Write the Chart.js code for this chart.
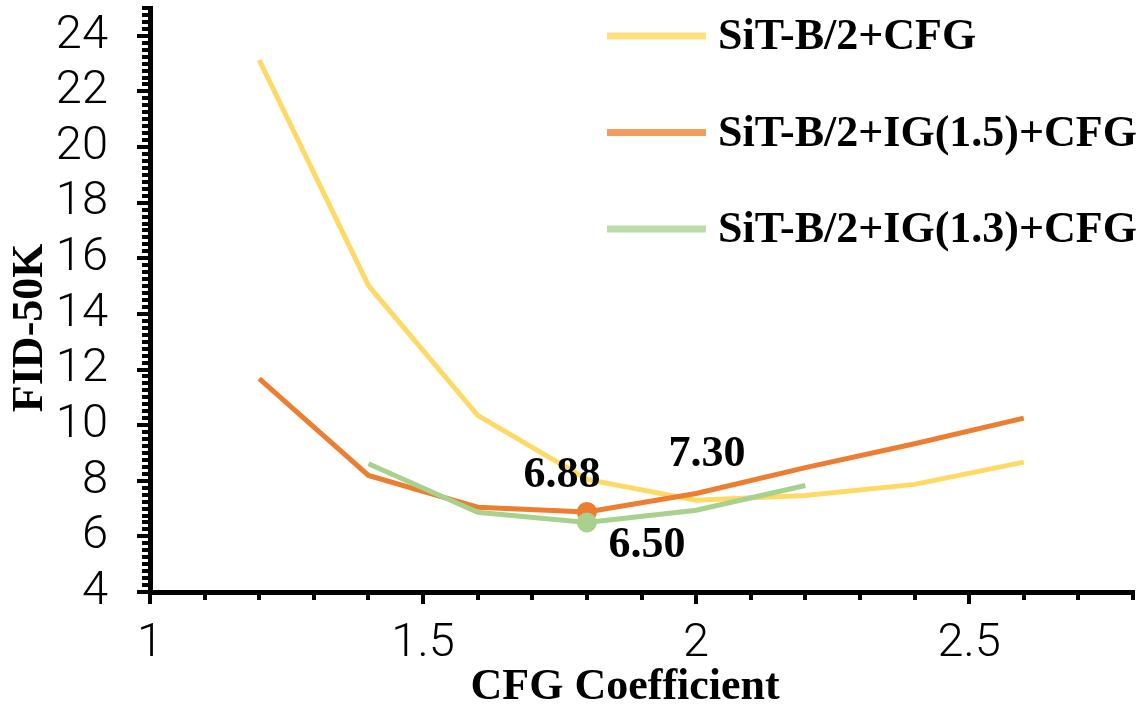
<!DOCTYPE html>
<html>
<head>
<meta charset="utf-8">
<script src="https://cdn.jsdelivr.net/npm/chart.js@4.4.0/dist/chart.umd.min.js"></script>
<style>
  html, body { margin: 0; padding: 0; background: #fff; }
  #wrap { width: 1141px; height: 711px; }
</style>
</head>
<body>
<div id="wrap"><canvas id="c" width="1141" height="711"></canvas></div>
<script>
// ---- data ----
const seriesLabels = ['SiT-B/2+CFG', 'SiT-B/2+IG(1.5)+CFG', 'SiT-B/2+IG(1.3)+CFG'];
const cfgX      = [1.2, 1.4, 1.6, 1.8, 2.0, 2.2, 2.4, 2.6];
const sitCfg    = [23.13, 15.02, 10.35, 8.05, 7.30, 7.47, 7.87, 8.67];
const ig15X     = [1.2, 1.4, 1.6, 1.8, 2.0, 2.2, 2.4, 2.6];
const ig15Cfg   = [11.67, 8.19, 7.05, 6.88, 7.54, 8.47, 9.33, 10.25];
const ig13X     = [1.4, 1.6, 1.8, 2.0, 2.2];
const ig13Cfg   = [8.61, 6.87, 6.50, 6.94, 7.83];
const highlightX = 1.8;
const xTickValues = [1, 1.5, 2, 2.5];
const yTickValues = [4, 6, 8, 10, 12, 14, 16, 18, 20, 22, 24];
const xTitle = 'CFG Coefficient';
const yTitle = 'FID-50K';
// value labels: [datasetIndex, x value, text]
const valueLabels = [[1, 1.8, '6.88'], [0, 2.0, '7.30'], [2, 1.8, '6.50']];

const lineColors   = ['#FFD966', '#ED7D31', '#A9D18E'];
const legendColors = ['#FFDF80', '#F29C60', '#BCDCA7'];
const serif = '"Liberation Serif", "Times New Roman", serif';
const sans = 'Roboto, "Open Sans", "DejaVu Sans", sans-serif';

function pts(xs, ys) { return xs.map((x, i) => ({ x: x, y: ys[i] })); }
function radii(xs, r) { return xs.map(x => Math.abs(x - highlightX) < 1e-9 ? r : 0); }

const datasets = [
  { label: seriesLabels[0], data: pts(cfgX, sitCfg), borderColor: lineColors[0], backgroundColor: lineColors[0],
    borderWidth: 5, pointRadius: 0, order: 3 },
  { label: seriesLabels[1], data: pts(ig15X, ig15Cfg), borderColor: lineColors[1], backgroundColor: lineColors[1],
    borderWidth: 5, pointRadius: radii(ig15X, 10), pointBorderWidth: 0, order: 2 },
  { label: seriesLabels[2], data: pts(ig13X, ig13Cfg), borderColor: lineColors[2], backgroundColor: lineColors[2],
    borderWidth: 5, pointRadius: radii(ig13X, 10), pointBorderWidth: 0, order: 1 }
];

// minor ticks + axis titles
const axisExtras = {
  id: 'axisExtras',
  afterDraw(chart) {
    const ctx = chart.ctx, xs = chart.scales.x, ys = chart.scales.y, a = chart.chartArea;
    ctx.save();
    ctx.strokeStyle = '#000';
    ctx.lineWidth = 4;
    for (let k = 0; k <= 84; k++) {
      const v = 4 + k * 0.25;
      if (Math.abs(v / 2 - Math.round(v / 2)) < 1e-9) continue;
      const p = Math.round(ys.getPixelForValue(v));
      ctx.beginPath(); ctx.moveTo(a.left, p); ctx.lineTo(a.left - 8, p); ctx.stroke();
    }
    for (let k = 1; k <= 18; k++) {
      const v = 1 + k * 0.1;
      if (Math.abs(v * 2 - Math.round(v * 2)) < 1e-9) continue;
      const p = Math.round(xs.getPixelForValue(v));
      ctx.beginPath(); ctx.moveTo(p, a.bottom); ctx.lineTo(p, a.bottom + 8); ctx.stroke();
    }
    // axis titles
    ctx.fillStyle = '#000';
    ctx.font = 'bold 44px ' + serif;
    ctx.textAlign = 'center';
    ctx.textBaseline = 'middle';
    ctx.fillText(xTitle, xs.getPixelForValue(1.87), 688);
    ctx.translate(29, ys.getPixelForValue(13.5));
    ctx.rotate(-Math.PI / 2);
    ctx.fillText(yTitle, 0, 2);
    ctx.restore();
  }
};

// value labels
const labelOffsets = { '6.88': [-25, -38], '7.30': [11, -48], '6.50': [60, 21] };
const valueLabelPlugin = {
  id: 'valueLabels',
  afterDatasetsDraw(chart) {
    const ctx = chart.ctx;
    ctx.save();
    ctx.font = 'bold 44px ' + serif;
    ctx.fillStyle = '#000';
    ctx.textAlign = 'center';
    ctx.textBaseline = 'middle';
    valueLabels.forEach(([di, xv, txt]) => {
      const meta = chart.getDatasetMeta(di);
      const idx = chart.data.datasets[di].data.findIndex(p => Math.abs(p.x - xv) < 1e-9);
      const el = meta.data[idx];
      const off = labelOffsets[txt] || [0, -30];
      ctx.fillText(txt, el.x + off[0], el.y + off[1] + 2);
    });
    ctx.restore();
  }
};

// legend inside plot (upper right)
const legendPlugin = {
  id: 'insideLegend',
  afterDraw(chart) {
    const ctx = chart.ctx;
    ctx.save();
    ctx.font = 'bold 44px ' + serif;
    ctx.textBaseline = 'middle';
    ctx.textAlign = 'left';
    chart.data.datasets.forEach((ds, i) => {
      const y = 36 + i * 96.5;
      ctx.strokeStyle = legendColors[i];
      ctx.lineWidth = 7;
      ctx.beginPath(); ctx.moveTo(607, y); ctx.lineTo(706, y); ctx.stroke();
      ctx.fillStyle = '#000';
      ctx.fillText(ds.label, 718, y + 2);
    });
    ctx.restore();
  }
};

new Chart(document.getElementById('c'), {
  type: 'line',
  data: { datasets: datasets },
  options: {
    responsive: false,
    animation: false,
    layout: { padding: { top: 8, right: 8, left: 0, bottom: 0 } },
    plugins: { legend: { display: false }, tooltip: { enabled: false } },
    scales: {
      x: {
        type: 'linear', min: 1, max: 2.8,
        afterBuildTicks(s) { s.ticks = xTickValues.map(v => ({ value: v })); },
        afterFit(s) { s.height = 119; s.paddingLeft = 0; s.paddingRight = 0; },
        ticks: { font: { family: sans, size: 47, weight: '300' }, color: '#000', padding: 12, maxRotation: 0,
                 autoSkip: false, callback: v => String(v) },
        grid: { drawOnChartArea: false, drawTicks: true, tickLength: 12, lineWidth: 4, color: '#000' },
        border: { display: true, width: 5, color: '#000' }
      },
      y: {
        type: 'linear', min: 4, max: 25,
        afterBuildTicks(s) { s.ticks = yTickValues.map(v => ({ value: v })); },
        afterFit(s) { s.width = 150; s.paddingTop = 0; s.paddingBottom = 0; },
        ticks: { font: { family: sans, size: 47, weight: '300' }, color: '#000', padding: 29,
                 autoSkip: false, callback: v => String(v) },
        grid: { drawOnChartArea: false, drawTicks: true, tickLength: 13, lineWidth: 4, color: '#000' },
        border: { display: true, width: 5, color: '#000' }
      }
    }
  },
  plugins: [axisExtras, valueLabelPlugin, legendPlugin]
});
</script>
</body>
</html>
